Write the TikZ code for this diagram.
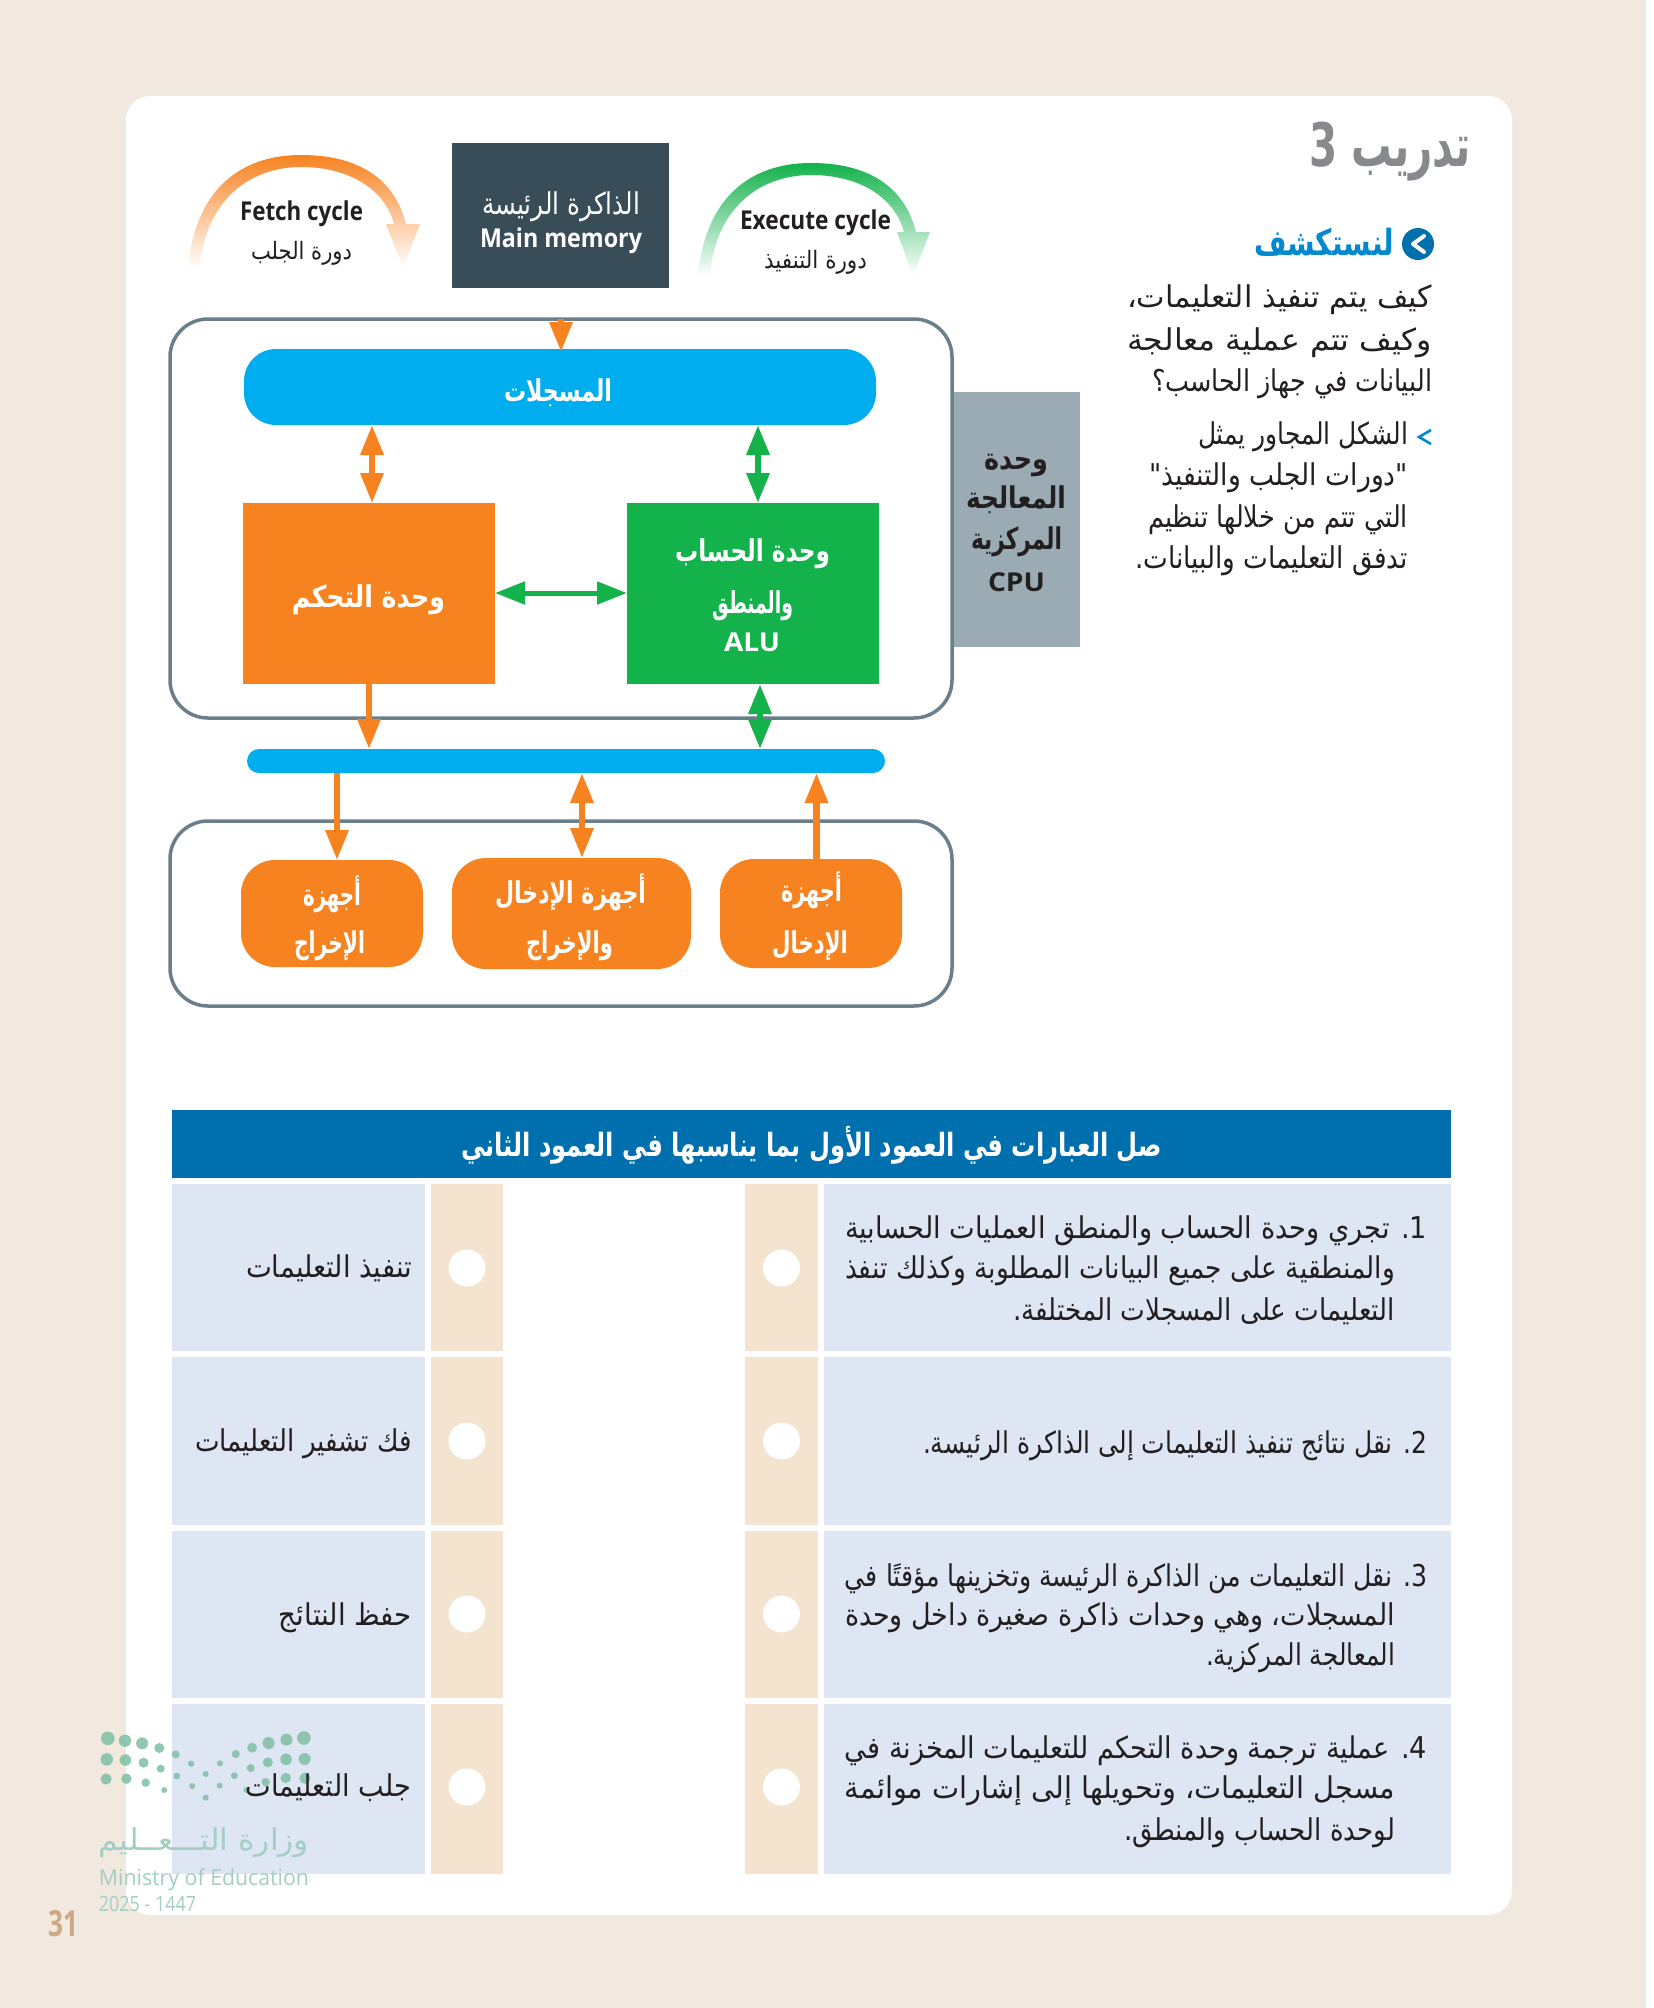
\documentclass[tikz,border=0pt]{standalone}
\usepackage{fontspec}
\usepackage{graphicx}
\usetikzlibrary{arrows.meta,calc}
\TeXXeTstate=1
\setmainfont{Open Sans}
\newfontfamily\arfam[Script=Arabic]{DejaVu Sans}
\newfontfamily\lafam{Open Sans}
\definecolor{pagebg}{HTML}{F1E8DF}
\definecolor{cellblue}{HTML}{DDE6F2}
\definecolor{cellbeige}{HTML}{F3E3CF}
\definecolor{hdrblue}{HTML}{006FAE}
\definecolor{skyb}{HTML}{00AEEF}
\definecolor{orng}{HTML}{F78220}
\definecolor{grn}{HTML}{13B24B}
\definecolor{slategr}{HTML}{9AABB3}
\definecolor{darkbx}{HTML}{394D59}
\definecolor{framec}{HTML}{6B7F8B}
\definecolor{inkc}{HTML}{231F20}
\definecolor{titleg}{HTML}{88898C}
\definecolor{linkb}{HTML}{0089CF}
\definecolor{logog}{HTML}{7FBFA5}
\definecolor{logot}{HTML}{A3CFC3}
\definecolor{pageno}{HTML}{CDAA85}
\newcommand\fbody{\arfam\fontsize{15}{18}\selectfont}
\newcommand\fsmall{\arfam\fontsize{12}{14}\selectfont}
\newcommand\fbold{\arfam\bfseries\fontsize{15}{18}\selectfont}
\newcommand\fhead{\arfam\bfseries\fontsize{16}{18}\selectfont}
\newcommand\flatin{\lafam\bfseries\fontsize{13}{15}\selectfont}
% box from corners
\newcommand\bx[6]{\pgfmathsetmacro\cxx{(#2+#4)/2}\pgfmathsetmacro\cyy{(#3+#5)/2}%
\pgfmathsetlengthmacro\www{(#4-#2)*0.5}\pgfmathsetlengthmacro\hhh{(#5-#3)*0.5}%
\node[#6,minimum width=\www,minimum height=\hhh,inner sep=0pt,outer sep=0pt] (#1) at (\cxx,\cyy) {};}
% one line of text between xl and xr, around y centre
\newcommand\tl[7]{\pgfmathsetmacro\cxx{(#2+#3)/2}\pgfmathsetlengthmacro\www{(#3-#2)*0.5}%
\node[anchor=base,inner sep=0pt,outer sep=0pt,text=#6] (#1) at (\cxx,{#4+8}) {\resizebox{\www}{\height}{#5#7}};}
\newcommand\ar[1]{\beginR #1\endR}
\tikzset{
 frame/.style={draw=framec,line width=1.75pt,fill=white,rounded corners=19pt},
 devbox/.style={fill=orng,rounded corners=17pt},
 cell/.style={fill=cellblue},
 slot/.style={fill=cellbeige},
 pin/.style={fill=white,circle},
 oarr/.style={draw=orng,line width=3.2pt,-{Triangle[length=15pt,width=11pt]}},
 oarrb/.style={draw=orng,line width=3.2pt,{Triangle[length=15pt,width=11pt]}-{Triangle[length=15pt,width=11pt]}},
 garrb/.style={draw=grn,line width=3.2pt,{Triangle[length=15pt,width=11pt]}-{Triangle[length=15pt,width=11pt]}},
 dot/.style={fill=logog,fill opacity=.85},
}
\begin{document}
\begin{tikzpicture}[x=0.5pt,y=-0.5pt]
\useasboundingbox (0,0) rectangle (1654,2008);
\fill[white] (0,0) rectangle (1654,2008);
\fill[pagebg] (0,0) rectangle (1646,2008);
\fill[white,rounded corners=12pt] (126,96) rectangle (1512,1915);

% cycles
\shade[top color=orng,bottom color=white,shading angle=0]
 (188,268) .. controls (195,190) and (240,155) .. (301,155)
 .. controls (360,155) and (395,180) .. (406,224) -- (420,224) -- (403,268) -- (386,224) -- (394,224)
 .. controls (385,190) and (350,167) .. (301,167) .. controls (250,167) and (205,200) .. (200,268) -- cycle;
\shade[top color=grn,bottom color=white]
 (698,276) .. controls (705,198) and (750,163) .. (811,163)
 .. controls (870,163) and (905,188) .. (916,232) -- (930,232) -- (913,276) -- (897,232) -- (904,232)
 .. controls (895,198) and (860,175) .. (811,175) .. controls (760,175) and (715,208) .. (710,276) -- cycle;

\tl{fetchen}{240}{363}{212}{\flatin}{inkc}{Fetch cycle}
\tl{fetchar}{251}{352}{251}{\fsmall}{inkc}{\ar{دورة الجلب}}
\tl{execen}{740}{891}{221}{\flatin}{inkc}{Execute cycle}
\tl{execar}{764}{867}{260}{\fsmall}{inkc}{\ar{دورة التنفيذ}}

% main memory
\bx{mem}{452}{143}{669}{288}{fill=darkbx}
\tl{memar}{482}{640}{206}{\fbody}{white}{\ar{الذاكرة الرئيسة}}
\tl{memen}{480}{642}{239}{\flatin}{white}{Main memory}

% cpu
\bx{cpulabel}{952}{392}{1080}{647}{fill=slategr}
\bx{cpu}{170}{319}{952}{718}{frame}
\tl{cpua}{984}{1048}{461}{\fbold}{inkc}{\ar{وحدة}}
\tl{cpub}{966}{1066}{500}{\fbold}{inkc}{\ar{المعالجة}}
\tl{cpuc}{971}{1062}{541}{\fbold}{inkc}{\ar{المركزية}}
\tl{cpud}{988}{1045}{583}{\flatin}{inkc}{CPU}
\bx{regs}{244}{349}{876}{425}{fill=skyb,rounded corners=16pt}
\tl{regst}{504}{612}{393}{\fbold}{white}{\ar{المسجلات}}
\bx{ctrl}{243}{503}{495}{684}{fill=orng}
\tl{ctrlt}{292}{445}{599}{\fbold}{white}{\ar{وحدة التحكم}}
\bx{alu}{627}{503}{879}{684}{fill=grn}
\tl{alua}{675}{830}{553}{\fbold}{white}{\ar{وحدة الحساب}}
\tl{alub}{712}{793}{605}{\fbold}{white}{\ar{والمنطق}}
\tl{aluc}{724}{780}{643}{\flatin}{white}{ALU}

% bus and devices
\bx{bus}{247}{749}{885}{773}{fill=skyb,rounded corners=6pt}
\bx{devs}{170}{821}{952}{1006}{frame}
\bx{outd}{241}{860}{423}{967}{devbox}
\bx{iod}{452}{858}{691}{969}{devbox}
\bx{ind}{720}{859}{902}{968}{devbox}
\tl{outa}{303}{361}{897}{\fbold}{white}{\ar{أجهزة}}
\tl{outb}{294}{365}{945}{\fbold}{white}{\ar{الإخراج}}
\tl{ioa}{495}{646}{895}{\fbold}{white}{\ar{أجهزة الإدخال}}
\tl{iob}{526}{613}{945}{\fbold}{white}{\ar{والإخراج}}
\tl{ina}{781}{842}{893}{\fbold}{white}{\ar{أجهزة}}
\tl{inb}{772}{848}{945}{\fbold}{white}{\ar{الإدخال}}

% connectors
\coordinate (xmem) at (561,0);
\coordinate (xrc) at (372,0);
\coordinate (xra) at (758,0);
\coordinate (xcb) at (369,0);
\coordinate (xab) at (760,0);
\coordinate (xbo) at (337,0);
\coordinate (xbi) at (582,0);
\coordinate (xib) at (816.5,0);
\coordinate (yca) at (0,593);
\draw[oarr,shorten >=-1.5pt] (cpu.north -| xmem) -- (regs.north -| xmem);
\draw[oarrb] (regs.south -| xrc) -- (ctrl.north -| xrc);
\draw[garrb] (regs.south -| xra) -- (alu.north -| xra);
\draw[garrb,line width=2.5pt] (ctrl.east |- yca) -- (alu.west |- yca);
\draw[oarr] (ctrl.south -| xcb) -- (bus.north -| xcb);
\draw[garrb] (alu.south -| xab) -- (bus.north -| xab);
\draw[oarr] (bus.south -| xbo) -- (outd.north -| xbo);
\draw[oarrb] (bus.south -| xbi) -- (iod.north -| xbi);
\draw[oarr] (ind.north -| xib) -- (bus.south -| xib);

% right column
\tl{title}{1309}{1471}{158}{\arfam\bfseries\fontsize{30}{32}\selectfont}{titleg}{\ar{تدريب \beginL 3\endL}}
\node[fill=hdrblue,circle,minimum size=16pt,inner sep=0pt] (ico) at (1418,244) {};
\draw[white,line width=2pt,line cap=round,line join=round] (1424,236) -- (1413,244) -- (1424,252);
\tl{discover}{1254}{1394}{247}{\arfam\bfseries\fontsize{18}{20}\selectfont}{linkb}{\ar{لنستكشف}}
\tl{qa}{1127}{1432}{299}{\fbody}{inkc}{\ar{كيف يتم تنفيذ التعليمات،}}
\tl{qb}{1127}{1432}{342}{\fbody}{inkc}{\ar{وكيف تتم عملية معالجة}}
\tl{qc}{1152}{1432}{383}{\fbody}{inkc}{\ar{البيانات في جهاز الحاسب؟}}
\draw[linkb,line width=1.3pt] (1431,430) -- (1419,437) -- (1431,444);
\tl{pa}{1198}{1408}{436}{\fbody}{inkc}{\ar{الشكل المجاور يمثل}}
\tl{pb}{1149}{1408}{477}{\fbody}{inkc}{\ar{"دورات الجلب والتنفيذ"}}
\tl{pc}{1148}{1408}{519}{\fbody}{inkc}{\ar{التي تتم من خلالها تنظيم}}
\tl{pd}{1135}{1408}{560}{\fbody}{inkc}{\ar{تدفق التعليمات والبيانات.}}

% table
\bx{hdr}{172}{1110}{1451}{1178}{fill=hdrblue}
\tl{hdrt}{461}{1162}{1148}{\fhead}{white}{\ar{صل العبارات في العمود الأول بما يناسبها في العمود الثاني}}
\foreach \n/\a/\b/\c in {1/1184/1351/1268,2/1357/1525/1441,3/1531/1698/1614,4/1704/1874/1787}{
 \bx{lcell\n}{172}{\a}{425}{\b}{cell}
 \bx{lslot\n}{431}{\a}{503}{\b}{slot}
 \bx{rslot\n}{745}{\a}{818}{\b}{slot}
 \bx{rcell\n}{824}{\a}{1451}{\b}{cell}
 \node[pin,minimum size=18.5pt,inner sep=0pt] (lpin\n) at (467,\c) {};
 \node[pin,minimum size=18.5pt,inner sep=0pt] (rpin\n) at (781.5,\c) {};
}

% logo
\foreach \x/\y/\r in {302/175/3.4,350/182/3.1,398/190/3,446/204/2.5,492/223/2,535/251/1.6,576/282/1.5,616/250/1.5,660/222/2,706/203/2.5,752/189/3,802/179/3,851/174/3.4,
 299/238/3.1,351/240/2.9,402/248/2.5,450/266/2,495/288/1.7,538/318/1.5,576/353/1.5,615/317/1.5,656/287/1.7,702/264/2,750/247/2.5,801/238/2.9,853/237/3,
 297/297/2.8,354/296/2.6,408/308/2.1,460/330/1.5,690/330/1.5,744/306/2.1,800/294/2.6,854/295/2.8}{
 \fill[dot] ({\x/2.8},{1680+\y/3}) circle ({\r*1pt});
}
\tl{logoa}{99}{309}{1842}{\fbody}{logot}{\ar{وزارة التـــعــليم}}
\tl{logob}{99}{309}{1877}{\lafam\fontsize{11}{13}\selectfont}{logot}{Ministry of Education}
\tl{logoc}{99}{196}{1903}{\lafam\fontsize{10.5}{13}\selectfont}{logot}{2025 - 1447}
\tl{pageno}{48}{78}{1928}{\lafam\bfseries\fontsize{18}{20}\selectfont}{pageno}{31}

% table text
\tl{r1a}{845}{1427}{1230}{\fbody}{inkc}{\ar{\beginL 1\endL. تجري وحدة الحساب والمنطق العمليات الحسابية}}
\tl{r1b}{845}{1395}{1270}{\fbody}{inkc}{\ar{والمنطقية على جميع البيانات المطلوبة وكذلك تنفذ}}
\tl{r1c}{1013}{1395}{1312}{\fbody}{inkc}{\ar{التعليمات على المسجلات المختلفة.}}
\tl{r2a}{923}{1427}{1445}{\fbody}{inkc}{\ar{\beginL 2\endL. نقل نتائج تنفيذ التعليمات إلى الذاكرة الرئيسة.}}
\tl{r3a}{845}{1427}{1578}{\fbody}{inkc}{\ar{\beginL 3\endL. نقل التعليمات من الذاكرة الرئيسة وتخزينها مؤقتًا في}}
\tl{r3b}{845}{1395}{1617}{\fbody}{inkc}{\ar{المسجلات، وهي وحدات ذاكرة صغيرة داخل وحدة}}
\tl{r3c}{1206}{1395}{1657}{\fbody}{inkc}{\ar{المعالجة المركزية.}}
\tl{r4a}{845}{1427}{1750}{\fbody}{inkc}{\ar{\beginL 4\endL. عملية ترجمة وحدة التحكم للتعليمات المخزنة في}}
\tl{r4b}{845}{1395}{1790}{\fbody}{inkc}{\ar{مسجل التعليمات، وتحويلها إلى إشارات موائمة}}
\tl{r4c}{1124}{1395}{1832}{\fbody}{inkc}{\ar{لوحدة الحساب والمنطق.}}
\tl{l1}{246}{412}{1269}{\fbody}{inkc}{\ar{تنفيذ التعليمات}}
\tl{l2}{195}{412}{1443}{\fbody}{inkc}{\ar{فك تشفير التعليمات}}
\tl{l3}{279}{412}{1617}{\fbody}{inkc}{\ar{حفظ النتائج}}
\tl{l4}{246}{411}{1788}{\fbody}{inkc}{\ar{جلب التعليمات}}
\end{tikzpicture}
\end{document}
